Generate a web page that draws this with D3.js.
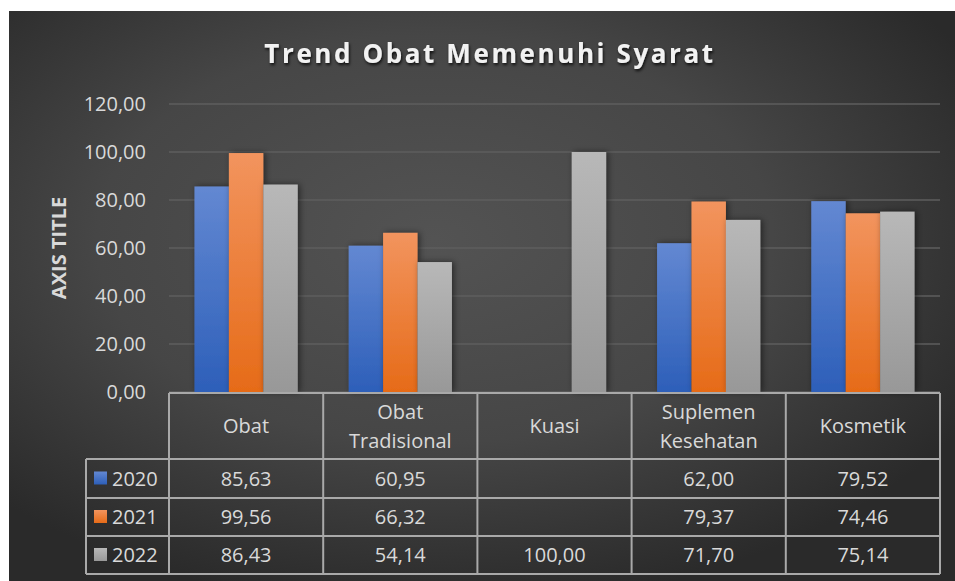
<!DOCTYPE html>
<html>
<head>
<meta charset="utf-8">
<script src="https://cdn.jsdelivr.net/npm/d3@7"></script>
<style>
  html, body { margin: 0; padding: 0; background: #fff; }
  svg { display: block; font-family: "Open Sans", "Noto Sans", sans-serif; }
</style>
</head>
<body>
<svg id="chart" width="955" height="581"></svg>
<script>
// data
var categories = ["Obat", "Obat Tradisional", "Kuasi", "Suplemen Kesehatan", "Kosmetik"];
var categoryLines = [["Obat"], ["Obat", "Tradisional"], ["Kuasi"], ["Suplemen", "Kesehatan"], ["Kosmetik"]];
var years = ["2020", "2021", "2022"];
var values2020 = [85.63, 60.95, null, 62.00, 79.52];
var values2021 = [99.56, 66.32, null, 79.37, 74.46];
var values2022 = [86.43, 54.14, 100.00, 71.70, 75.14];
var yTicks = [0, 20, 40, 60, 80, 100, 120];

var series = [values2020, values2021, values2022];
var colorsTop = ["#6388d2", "#f2945e", "#b8b8b8"];
var colorsBottom = ["#2d5fb9", "#e66b18", "#989898"];

var svg = d3.select("#chart");
var defs = svg.append("defs");

var bg = defs.append("radialGradient").attr("id", "bg")
  .attr("cx", "45%").attr("cy", "40%").attr("r", "65%");
bg.append("stop").attr("offset", "0%").attr("stop-color", "#535353");
bg.append("stop").attr("offset", "55%").attr("stop-color", "#464646");
bg.append("stop").attr("offset", "100%").attr("stop-color", "#2a2a2a");

years.forEach(function(y, i) {
  var g = defs.append("linearGradient").attr("id", "bar" + i)
    .attr("x1", 0).attr("y1", 0).attr("x2", 0).attr("y2", 1);
  g.append("stop").attr("offset", "0%").attr("stop-color", colorsTop[i]);
  g.append("stop").attr("offset", "100%").attr("stop-color", colorsBottom[i]);
});

var sh = defs.append("filter").attr("id", "shadow")
  .attr("x", "-40%").attr("y", "-10%").attr("width", "180%").attr("height", "120%");
sh.append("feDropShadow").attr("dx", 2).attr("dy", 0).attr("stdDeviation", 3)
  .attr("flood-color", "#000").attr("flood-opacity", 0.5);

var titleShadow = defs.append("filter").attr("id", "tshadow");
titleShadow.append("feDropShadow").attr("dx", 1).attr("dy", 2).attr("stdDeviation", 1.5)
  .attr("flood-color", "#000").attr("flood-opacity", 0.8);

svg.append("rect").attr("x", 9).attr("y", 11).attr("width", 946).attr("height", 570)
  .attr("fill", "url(#bg)");

var plotLeft = 169, plotRight = 940, plotTop = 104, plotBottom = 392;

var x = d3.scaleBand().domain(categories).range([plotLeft, plotRight]).paddingInner(0).paddingOuter(0);
var xs = d3.scaleBand().domain(years).range([0, x.bandwidth()]).paddingInner(0).paddingOuter(0.74);
var y = d3.scaleLinear().domain([0, 120]).range([plotBottom, plotTop]);

var comma = d3.formatLocale({ decimal: ",", thousands: ".", grouping: [3], currency: ["", ""] }).format(".2f");

// gridlines
svg.append("g").selectAll("line").data(yTicks).join("line")
  .attr("x1", plotLeft).attr("x2", plotRight)
  .attr("y1", function(d) { return y(d); }).attr("y2", function(d) { return y(d); })
  .attr("stroke", "#5e5e5e").attr("stroke-width", 1.5);

// y axis labels
var yAxis = svg.append("g").attr("transform", "translate(146,0)")
  .call(d3.axisLeft(y).tickValues(yTicks).tickSize(0).tickPadding(0).tickFormat(comma));
yAxis.select(".domain").remove();
yAxis.selectAll("text").attr("fill", "#d9d9d9").attr("font-size", 20)
  .attr("font-family", "Open Sans, sans-serif");

svg.append("text").attr("transform", "translate(66," + ((plotTop + plotBottom) / 2) + ") rotate(-90)")
  .attr("text-anchor", "middle").attr("fill", "#d9d9d9").attr("font-size", 20)
  .attr("font-weight", "bold").text("AXIS TITLE");

// title
svg.append("text").attr("x", 490).attr("y", 63).attr("text-anchor", "middle")
  .attr("fill", "#f2f2f2").attr("font-size", 26).attr("font-weight", "bold")
  .attr("letter-spacing", 2.6).attr("filter", "url(#tshadow)")
  .text("Trend Obat Memenuhi Syarat");

// bars
series.forEach(function(vals, si) {
  svg.append("g").selectAll("rect")
    .data(vals.map(function(v, ci) { return { c: categories[ci], v: v }; }).filter(function(d) { return d.v != null; }))
    .join("rect")
    .attr("x", function(d) { return x(d.c) + xs(years[si]); })
    .attr("y", function(d) { return y(d.v); })
    .attr("width", xs.bandwidth())
    .attr("height", function(d) { return y(0) - y(d.v); })
    .attr("fill", "url(#bar" + si + ")")
    .attr("filter", "url(#shadow)");
});

// data table
var rowTops = [393, 459, 498, 536, 574];
var legLeft = 86;
var lineCol = "#a9a9a9";
var tbl = svg.append("g");

tbl.append("line").attr("x1", plotLeft).attr("x2", plotRight).attr("y1", rowTops[0]).attr("y2", rowTops[0])
  .attr("stroke", lineCol).attr("stroke-width", 2);
for (var r = 1; r < rowTops.length; r++) {
  tbl.append("line").attr("x1", legLeft).attr("x2", plotRight).attr("y1", rowTops[r]).attr("y2", rowTops[r])
    .attr("stroke", lineCol).attr("stroke-width", 2);
}
var colEdges = categories.map(function(c) { return x(c); }).concat([plotRight]);
colEdges.forEach(function(cx) {
  tbl.append("line").attr("x1", cx).attr("x2", cx).attr("y1", rowTops[0]).attr("y2", rowTops[4])
    .attr("stroke", lineCol).attr("stroke-width", 2);
});
tbl.append("line").attr("x1", legLeft).attr("x2", legLeft).attr("y1", rowTops[1]).attr("y2", rowTops[4])
  .attr("stroke", lineCol).attr("stroke-width", 2);

categoryLines.forEach(function(lines, ci) {
  var cx = x(categories[ci]) + x.bandwidth() / 2;
  var mid = (rowTops[0] + rowTops[1]) / 2;
  var t = tbl.append("text").attr("text-anchor", "middle").attr("fill", "#d9d9d9").attr("font-size", 20);
  lines.forEach(function(l, li) {
    t.append("tspan").attr("x", cx)
      .attr("y", mid + 7 + (li - (lines.length - 1) / 2) * 29).text(l);
  });
});

series.forEach(function(vals, si) {
  var mid = (rowTops[si + 1] + rowTops[si + 2]) / 2;
  tbl.append("rect").attr("x", 94).attr("y", mid - 7).attr("width", 13).attr("height", 13)
    .attr("fill", "url(#bar" + si + ")");
  tbl.append("text").attr("x", 112).attr("y", mid + 7).attr("fill", "#d9d9d9")
    .attr("font-size", 20).text(years[si]);
  vals.forEach(function(v, ci) {
    if (v == null) return;
    tbl.append("text").attr("x", x(categories[ci]) + x.bandwidth() / 2).attr("y", mid + 7)
      .attr("text-anchor", "middle").attr("fill", "#d9d9d9").attr("font-size", 20).text(comma(v));
  });
});
</script>
</body>
</html>
